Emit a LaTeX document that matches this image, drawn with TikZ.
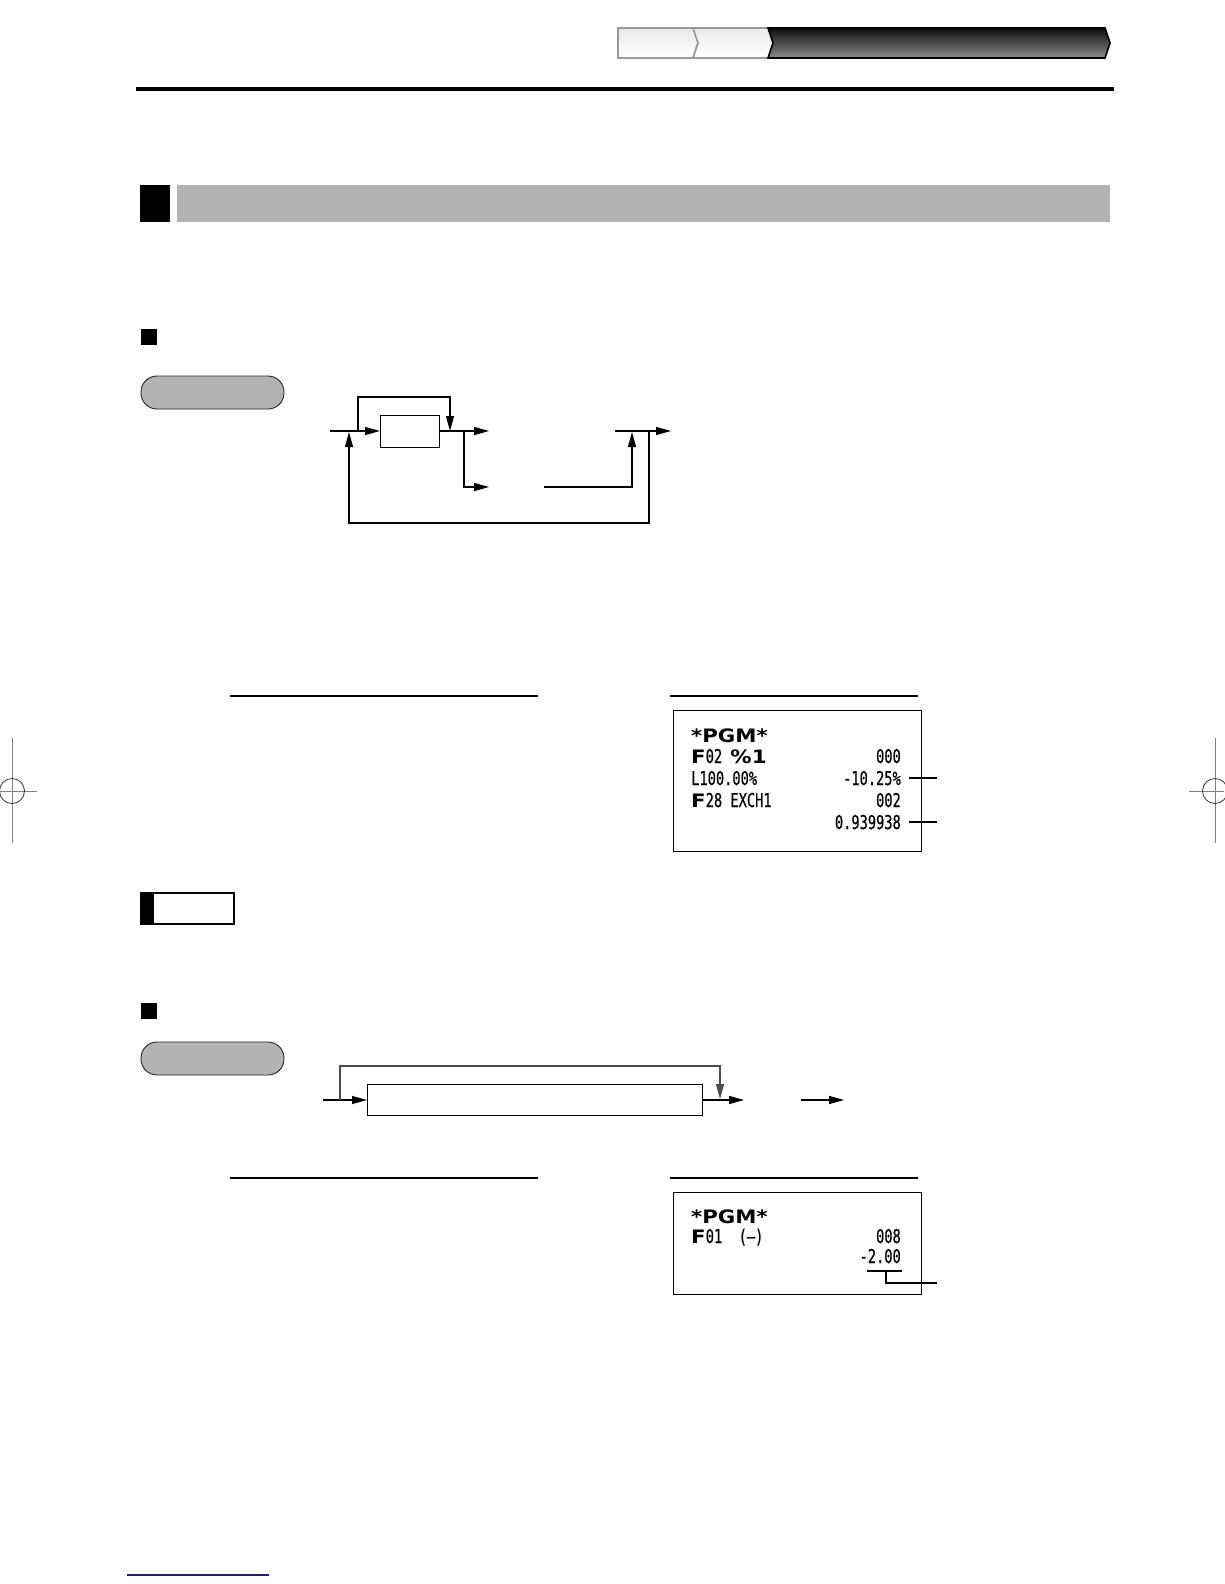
\documentclass[tikz,border=0pt]{standalone}
\usepackage{fontspec}
\usetikzlibrary{arrows.meta}
\newfontfamily\rmono[FakeStretch=0.72,FakeBold=0.6]{DejaVu Sans Mono}
\newfontfamily\rbold[FakeStretch=1.15]{DejaVu Sans}
\definecolor{barGray}{HTML}{B3B3B3}
\definecolor{navyLine}{RGB}{30,30,130}
\tikzset{
  ln/.style={line width=1.2pt},
  arr/.style={ln,-{Triangle[length=15pt,width=8pt]}},
  pill/.style={draw=black!85,line width=0.9pt,fill=barGray,rounded corners=16pt},
  flowbox/.style={draw,ln,fill=white},
  rtext/.style={inner sep=0pt,font=\rmono\fontsize{19}{19}\selectfont},
  crop/.style={draw=black!50,line width=0.8pt},
  cropc/.style={draw=black!80,line width=0.8pt},
}
\newcommand{\rb}[1]{{\rbold\bfseries\fontsize{18.5}{18.5}\selectfont #1}}
\begin{document}
\begin{tikzpicture}[x=1pt,y=-1pt]
\useasboundingbox (0,0) rectangle (1224,1584);
\fill[white] (0,0) rectangle (1224,1584);

% ---- tab bar ----
\shade[top color=black!8,bottom color=white,draw=black!40,line width=1.6pt]
  (618,28) -- (693,28) -- (698,43) -- (693,58) -- (618,58) -- cycle;
\shade[top color=black!8,bottom color=white,draw=black!40,line width=1.6pt]
  (693,28) -- (768,28) -- (773,43) -- (768,58) -- (693,58) -- (698,43) -- cycle;
\shade[top color=black!95,bottom color=black!45,draw=black,line width=1.6pt]
  (768,28) -- (1105,28) -- (1110,43) -- (1105,58) -- (768,58) -- (773,43) -- cycle;

% ---- thick rule ----
\draw[line width=4pt] (136,89) -- (1114,89);

% ---- section header ----
\fill[black] (140,185) rectangle (170,222);
\fill[barGray] (177,185) rectangle (1110,222);

% ---- first subsection ----
\fill[black] (141,329) rectangle (157,345);
\path[pill] (141,376) rectangle (284,409);

% flow 1
\node[flowbox,minimum width=59pt,minimum height=32pt,inner sep=0pt,anchor=north west] (b1) at (380,415) {};
\coordinate (s1) at (330,431);
\coordinate (j1) at (358,431);
\coordinate (l1) at (450,431);
\coordinate (o1) at (489,431);
\coordinate (d1) at (464,431);
\coordinate (d1e) at (489,487);
\coordinate (r1s) at (544,487);
\coordinate (u1) at (632,432);
\coordinate (m1) at (615,431);
\coordinate (o2) at (671,431);
\coordinate (v1) at (649,431);
\coordinate (rt1) at (349,432);
\draw[arr] (s1) -- (b1.west |- s1);
\draw[arr] (j1) -- (358,397) -- (450,397) -- (l1);
\draw[arr] (b1.east |- o1) -- (o1);
\draw[arr] (d1) -- (d1 |- d1e) -- (d1e);
\draw[arr] (r1s) -- (u1 |- r1s) -- (u1);
\draw[arr] (m1) -- (o2);
\draw[arr] (v1) -- (649,523) -- (349,523) -- (rt1);

% heading rules
\draw[ln] (230,696) coordinate (h1a) -- (538,696) coordinate (h1b);
\draw[ln] (670,696) coordinate (h2a) -- (918,696) coordinate (h2b);

% receipt 1
\node[draw,line width=1.4pt,minimum width=248pt,minimum height=141pt,inner sep=0pt,anchor=north west] (rc1) at (673,710) {};
\node[rtext,anchor=base west] (p1) at (691,742) {\rb{*PGM*}};
\node[rtext,anchor=base west] (p2) at (691,763) {\rb{F}02 \rb{\%1}};
\node[rtext,anchor=base east] (p2r) at (901,763) {000};
\node[rtext,anchor=base west] (p3) at (691,785) {L100.00\%};
\node[rtext,anchor=base east] (p3r) at (901,785) {-10.25\%};
\node[rtext,anchor=base west] (p4) at (691,807) {\rb{F}28 EXCH1};
\node[rtext,anchor=base east] (p4r) at (901,807) {002};
\node[rtext,anchor=base east] (p5r) at (901,829) {0.939938};
\coordinate (c1s) at (909,778); \coordinate (c1e) at (937,778);
\coordinate (c2s) at (909,822); \coordinate (c2e) at (937,822);
\draw[ln] (c1s) -- (c1e);
\draw[ln] (c2s) -- (c2e);

% note box
\draw[line width=2pt] (141,893) rectangle (234,924);
\fill[black] (141,893) rectangle (154,924);

% ---- second subsection ----
\fill[black] (141,1003) rectangle (157,1019);
\path[pill] (141,1042) rectangle (284,1075);

% flow 2
\node[flowbox,minimum width=335pt,minimum height=31pt,inner sep=0pt,anchor=north west] (b2) at (367,1084) {};
\coordinate (s2) at (323,1100);
\coordinate (j2) at (340,1100);
\coordinate (l2) at (720,1099);
\coordinate (o3) at (744,1100);
\coordinate (a2s) at (801,1100);
\coordinate (a2e) at (844,1100);
\draw[arr] (s2) -- (b2.west |- s2);
\draw[arr,color=black!70] (j2) -- (340,1066) -- (720,1066) -- (l2);
\draw[arr] (b2.east |- o3) -- (o3);
\draw[arr] (a2s) -- (a2e);

% heading rules
\draw[ln] (230,1178) coordinate (h3a) -- (538,1178) coordinate (h3b);
\draw[ln] (670,1178) coordinate (h4a) -- (918,1178) coordinate (h4b);

% receipt 2
\node[draw,line width=1.4pt,minimum width=248pt,minimum height=102pt,inner sep=0pt,anchor=north west] (rc2) at (673,1192) {};
\node[rtext,anchor=base west] (q1) at (691,1223) {\rb{*PGM*}};
\node[rtext,anchor=base west] (q2) at (691,1243) {\rb{F}01 ~(–)};
\node[rtext,anchor=base east] (q2r) at (901,1243) {008};
\node[rtext,anchor=base east] (q3r) at (901,1263) {-2.00};
\coordinate (ul1) at (867,1271); \coordinate (ul2) at (902,1271);
\coordinate (uc) at (886,1271); \coordinate (ue) at (937,1283);
\draw[ln] (ul1) -- (ul2);
\draw[ln] (uc) -- (uc |- ue) -- (ue);

% ---- crop marks ----
\draw[crop] (12,738) -- (12,843);
\draw[crop] (0,791) -- (37,791);
\draw[cropc] (12,791) circle[radius=12.5];
\draw[crop] (1215,738) -- (1215,843);
\draw[crop] (1189,791) -- (1224,791);
\draw[cropc] (1215,791) circle[radius=12.5];

% ---- bottom blue line ----
\draw[navyLine,line width=1.6pt] (127,1575) -- (269,1575);
\end{tikzpicture}
\end{document}
